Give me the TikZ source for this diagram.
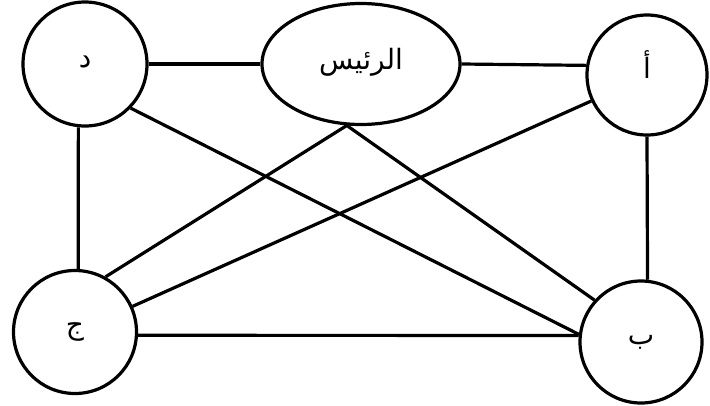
\documentclass[tikz,border=0pt]{standalone}
\usepackage{fontspec}
\newfontfamily\arabicfont[Script=Arabic]{DejaVu Sans}
\TeXXeTstate=1
\usetikzlibrary{shapes.geometric}
\begin{document}
\begin{tikzpicture}[x=1pt,y=-1pt,
  shp/.style={draw, line width=3.2pt, inner sep=0pt, font=\arabicfont\fontsize{28}{32}\selectfont},
  vtx/.style={shp, circle},
  boss/.style={shp, ellipse, minimum width=198pt, minimum height=121pt},
  edge/.style={line width=3.2pt}]
\useasboundingbox (0,0) rectangle (710,405);
\fill[white] (0,0) rectangle (710,405);
\node[vtx, minimum size=124pt] (d) at (85,64) {\raisebox{4pt}{\beginR د\endR}};
\node[boss] (r) at (361,64) {\raisebox{10pt}{\beginR الرئيس\endR}};
\node[vtx, minimum size=120pt] (a) at (647,75) {\raisebox{20pt}{\beginR أ\endR}};
\node[vtx, minimum size=122pt] (b) at (641,342) {\raisebox{4pt}{\beginR ب\endR}};
\node[vtx, minimum size=123pt] (c) at (75,332) {\raisebox{-2pt}{\beginR ج\endR}};
\draw[edge] (d) -- (r);
\draw[edge] (r.0) -- (a.171.4);
\draw[edge] (d.-96.5) -- (c.87);
\draw[edge] (a.-90) -- (b.84.4);
\draw[edge] (c.-3.6) -- (b.174.4);
\draw[edge] (d.-44) -- (b.173);
\draw[edge] (r.-103) -- (b.138);
\draw[edge] (r.-103) -- (c.61);
\draw[edge] (a.205) -- (c.24);
\end{tikzpicture}
\end{document}
